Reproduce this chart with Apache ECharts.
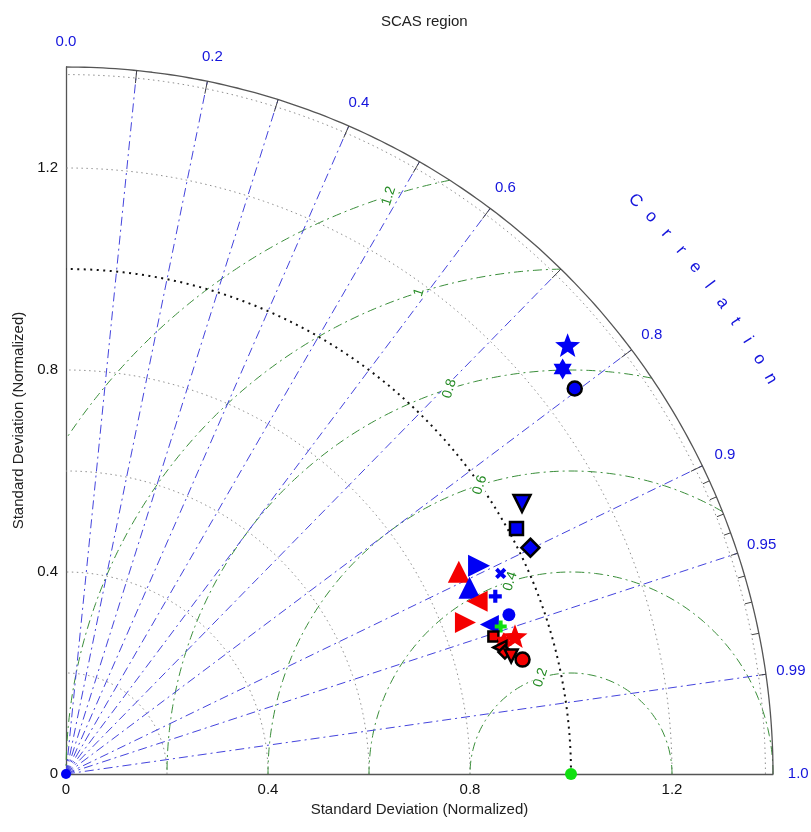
<!DOCTYPE html>
<html>
<head>
<meta charset="utf-8">
<title>SCAS region</title>
<script src="https://cdn.jsdelivr.net/npm/echarts/dist/echarts.min.js"></script>
<style>
  html, body { margin: 0; padding: 0; background: #fff; }
  #main { width: 811px; height: 832px; }
</style>
</head>
<body>
<div id="main"></div>
<script>
// Taylor diagram, SCAS region

var stdMax = 1.4;
var stdTicks = [0, 0.4, 0.8, 1.2];
var stdCircles = [0.2, 0.4, 0.6, 0.8, 1.2];
var refStd = 1.0;
var rmsCircles = [0.2, 0.4, 0.6, 0.8, 1.0, 1.2];
var rmsLabels = ['0.2', '0.4', '0.6', '0.8', '1', '1.2'];
var corrRays = [0.1, 0.2, 0.3, 0.4, 0.5, 0.6, 0.7, 0.8, 0.9, 0.95, 0.99];
var corrLabels = ['0.0', '0.2', '0.4', '0.6', '0.8', '0.9', '0.95', '0.99', '1.0'];
var corrLabelValues = [0.0, 0.2, 0.4, 0.6, 0.8, 0.9, 0.95, 0.99, 1.0];
var corrMinorTicks = [0.1, 0.2, 0.3, 0.4, 0.5, 0.6, 0.7, 0.8, 0.9];
var corrFineTicks = [0.91, 0.92, 0.93, 0.94, 0.95, 0.96, 0.97, 0.98, 0.99];

// models: normalized std and correlation
var modelStd  = [1.307, 1.269, 1.264, 1.050, 1.016, 1.023, 0.875, 0.916, 0.948, 0.880, 0.920, 0.883,
                 0.932, 0.846, 0.889, 0.909, 0.930, 0.889, 0.906, 0.895, 0.902, 0.912, 0.932];
var modelCorr = [0.760, 0.775, 0.797, 0.860, 0.878, 0.899, 0.889, 0.893, 0.908, 0.908, 0.924, 0.922,
                 0.941, 0.935, 0.943, 0.947, 0.956, 0.952, 0.957, 0.960, 0.9635, 0.9666, 0.970];
var modelMarker = ['blueStar', 'blueHex', 'blueCircleEdge', 'blueDownEdge', 'blueSquareEdge', 'blueDiamondEdge',
                   'redUp', 'blueRight', 'blueX', 'blueUp', 'bluePlus', 'redLeft',
                   'blueDot', 'redRight', 'blueLeft', 'greenPlus', 'redStar', 'redSquareEdge',
                   'redHex', 'redLeftEdge', 'redDiamondEdge', 'redDownEdge', 'redCircleEdge'];

var FONT = '"Liberation Sans", Arial, Helvetica, sans-serif';
var BLUE = '#0000f5', RED = '#f50000', GREEN = '#10e010';

var chart = echarts.init(document.getElementById('main'));

function starPath(n, inner) {
  var p = [];
  for (var i = 0; i < 2 * n; i++) {
    var r = i % 2 ? 10 * inner : 10;
    var a = Math.PI / 2 + i * Math.PI / n;
    p.push((10 + r * Math.cos(a)).toFixed(2) + ',' + (10 - r * Math.sin(a)).toFixed(2));
  }
  return 'path://M' + p.join('L') + 'Z';
}
var STAR5 = starPath(5, 0.42);
var STAR6 = starPath(6, 0.58);
var PLUS = 'path://M3.4,0H6.6V3.4H10V6.6H6.6V10H3.4V6.6H0V3.4H3.4Z';

function mk(symbol, size, color, rot, edge) {
  return { symbol: symbol, size: size, color: color, rot: rot || 0, edge: edge || false };
}
var markerStyles = {
  blueStar: mk(STAR5, 25, BLUE),
  blueHex: mk(STAR6, 21, BLUE),
  blueCircleEdge: mk('circle', 14, BLUE, 0, true),
  blueDownEdge: mk('triangle', 17, BLUE, 180, true),
  blueSquareEdge: mk('rect', 13, BLUE, 0, true),
  blueDiamondEdge: mk('diamond', 18, BLUE, 0, true),
  redUp: mk('triangle', 22, RED),
  blueRight: mk('triangle', 22, BLUE, -90),
  blueX: mk(PLUS, 12, BLUE, 45),
  blueUp: mk('triangle', 22, BLUE),
  bluePlus: mk(PLUS, 13, BLUE),
  redLeft: mk('triangle', 21, RED, 90),
  blueDot: mk('circle', 13, BLUE),
  redRight: mk('triangle', 21, RED, -90),
  blueLeft: mk('triangle', 19, BLUE, 90),
  greenPlus: mk(PLUS, 12, GREEN),
  redStar: mk(STAR5, 25, RED),
  redSquareEdge: mk('rect', 10, RED, 0, true),
  redHex: mk(STAR6, 18, RED),
  redLeftEdge: mk('triangle', 13, RED, 90, true),
  redDiamondEdge: mk('diamond', 13, RED, 0, true),
  redDownEdge: mk('triangle', 13, RED, 180, true),
  redCircleEdge: mk('circle', 14, RED, 0, true)
};

function toXY(s, c) { return [s * c, s * Math.sqrt(1 - c * c)]; }
function arc(cx, r, a0, a1) {
  var pts = [];
  for (var i = 0; i <= 180; i++) {
    var a = (a0 + (a1 - a0) * i / 180) * Math.PI / 180;
    pts.push([cx + r * Math.cos(a), r * Math.sin(a)]);
  }
  return pts;
}
function lineSeries(data, color, width, type, z) {
  return {
    type: 'line', data: data, showSymbol: false, symbol: 'none', silent: true,
    animation: false, clip: false, z: z || 1,
    lineStyle: { color: color, width: width, type: type }
  };
}

var series = [];

// std circles
stdCircles.forEach(function (r) {
  series.push(lineSeries(arc(0, r, 0, 90), '#8e8e8e', 1, [1.5, 3.5]));
});
series.push(lineSeries(arc(0, stdMax - 0.015, 0, 90), '#8e8e8e', 1, [1.5, 3.5]));
series.push(lineSeries(arc(0, refStd, 0, 90), '#111', 2, [2, 4.5], 2));

// rms circles around the reference
rmsCircles.forEach(function (R) {
  var a0 = 0, a1 = 180;
  if (R > stdMax - refStd) {
    var x = (stdMax * stdMax - R * R + refStd * refStd) / (2 * refStd);
    a0 = Math.atan2(Math.sqrt(stdMax * stdMax - x * x), x - refStd) * 180 / Math.PI;
  }
  if (R > refStd) a1 = Math.acos(-refStd / R) * 180 / Math.PI;
  series.push(lineSeries(arc(refStd, R, a0, a1), '#3a8e3a', 1, [9, 4, 2, 4]));
});

// correlation rays
corrRays.forEach(function (c) {
  series.push(lineSeries([[0, 0], toXY(stdMax, c)], '#4444dd', 1, [9, 4, 2, 4]));
});

// outer arc and its ticks
series.push(lineSeries(arc(0, stdMax, 0, 90), '#555', 1.3, 'solid', 3));
corrMinorTicks.forEach(function (c) {
  series.push(lineSeries([toXY(stdMax - 0.025, c), toXY(stdMax, c)], '#444', 1, 'solid', 3));
});
corrFineTicks.forEach(function (c) {
  series.push(lineSeries([toXY(stdMax - 0.014, c), toXY(stdMax, c)], '#444', 1, 'solid', 3));
});

// correlation labels
series.push({
  type: 'scatter', silent: true, animation: false, clip: false, symbolSize: 0,
  itemStyle: { opacity: 1 },
  data: corrLabelValues.map(function (c, i) {
    return { value: toXY(stdMax + 0.05, c), label: { formatter: corrLabels[i] } };
  }),
  label: { show: true, position: 'inside', color: '#1414dc', fontSize: 15, fontFamily: FONT }
});

// "Correlation" along the arc
var word = 'Correlation';
series.push({
  type: 'scatter', silent: true, animation: false, clip: false, symbolSize: 0,
  itemStyle: { opacity: 1 },
  data: word.split('').map(function (ch, i) {
    var ang = 45.2 - i * 1.59;
    var a = ang * Math.PI / 180;
    return {
      value: [1.6 * Math.cos(a), 1.6 * Math.sin(a)],
      label: { formatter: ch, rotate: ang - 90 }
    };
  }),
  label: { show: true, position: 'inside', color: '#1414dc', fontSize: 17, fontFamily: FONT }
});

// rms labels
series.push({
  type: 'scatter', silent: true, animation: false, clip: false, symbolSize: 0, z: 4,
  itemStyle: { opacity: 1 },
  data: rmsCircles.map(function (R, i) {
    var a = 107.5 * Math.PI / 180;
    return { value: [refStd + R * Math.cos(a), R * Math.sin(a)], label: { formatter: rmsLabels[i] } };
  }),
  label: { show: true, position: 'inside', rotate: 72, color: '#238a23', fontSize: 14, fontFamily: FONT,
           backgroundColor: '#fff', padding: [0, 1] }
});

// reference points
series.push({
  type: 'scatter', silent: true, animation: false, clip: false, z: 5,
  itemStyle: { opacity: 1 },
  data: [
    { value: [refStd, 0], symbolSize: 12, itemStyle: { color: GREEN } },
    { value: [0, 0], symbolSize: 10, itemStyle: { color: BLUE } }
  ]
});

// models
series.push({
  type: 'scatter', silent: true, animation: false, clip: false, z: 6, symbolKeepAspect: true,
  data: modelStd.map(function (s, i) {
    var st = markerStyles[modelMarker[i]];
    return {
      value: toXY(s, modelCorr[i]),
      symbol: st.symbol, symbolSize: st.size, symbolRotate: st.rot,
      itemStyle: { opacity: 1, color: st.color, borderColor: st.edge ? '#000' : st.color, borderWidth: st.edge ? 2.5 : 0 }
    };
  })
});

chart.setOption({
  animation: false,
  backgroundColor: '#fff',
  title: {
    text: 'SCAS region', left: 376, top: 9,
    textStyle: { fontSize: 15, fontWeight: 'normal', color: '#222', fontFamily: FONT }
  },
  grid: { left: 66, top: 67, width: 707, height: 707, containLabel: false },
  xAxis: {
    type: 'value', min: 0, max: stdMax, interval: 0.4,
    name: 'Standard Deviation (Normalized)', nameLocation: 'middle', nameGap: 19,
    nameTextStyle: { fontSize: 15, color: '#222', fontFamily: FONT },
    axisLine: { lineStyle: { color: '#555', width: 1.3 } },
    axisTick: { show: false }, splitLine: { show: false },
    axisLabel: { showMaxLabel: false, fontSize: 15, color: '#111', fontFamily: FONT, margin: 8,
                 formatter: function (v) { return stdTicks.indexOf(+v.toFixed(1)) >= 0 ? (v === 0 ? '0' : v.toFixed(1)) : ''; } }
  },
  yAxis: {
    type: 'value', min: 0, max: stdMax, interval: 0.4,
    name: 'Standard Deviation (Normalized)', nameLocation: 'middle', nameGap: 40,
    nameTextStyle: { fontSize: 15, color: '#222', fontFamily: FONT },
    axisLine: { show: true, lineStyle: { color: '#555', width: 1.3 } },
    axisTick: { show: false }, splitLine: { show: false },
    axisLabel: { showMaxLabel: false, fontSize: 15, color: '#111', fontFamily: FONT, margin: 8,
                 formatter: function (v) { return stdTicks.indexOf(+v.toFixed(1)) >= 0 ? (v === 0 ? '0' : v.toFixed(1)) : ''; } }
  },
  series: series
});
</script>
</body>
</html>
